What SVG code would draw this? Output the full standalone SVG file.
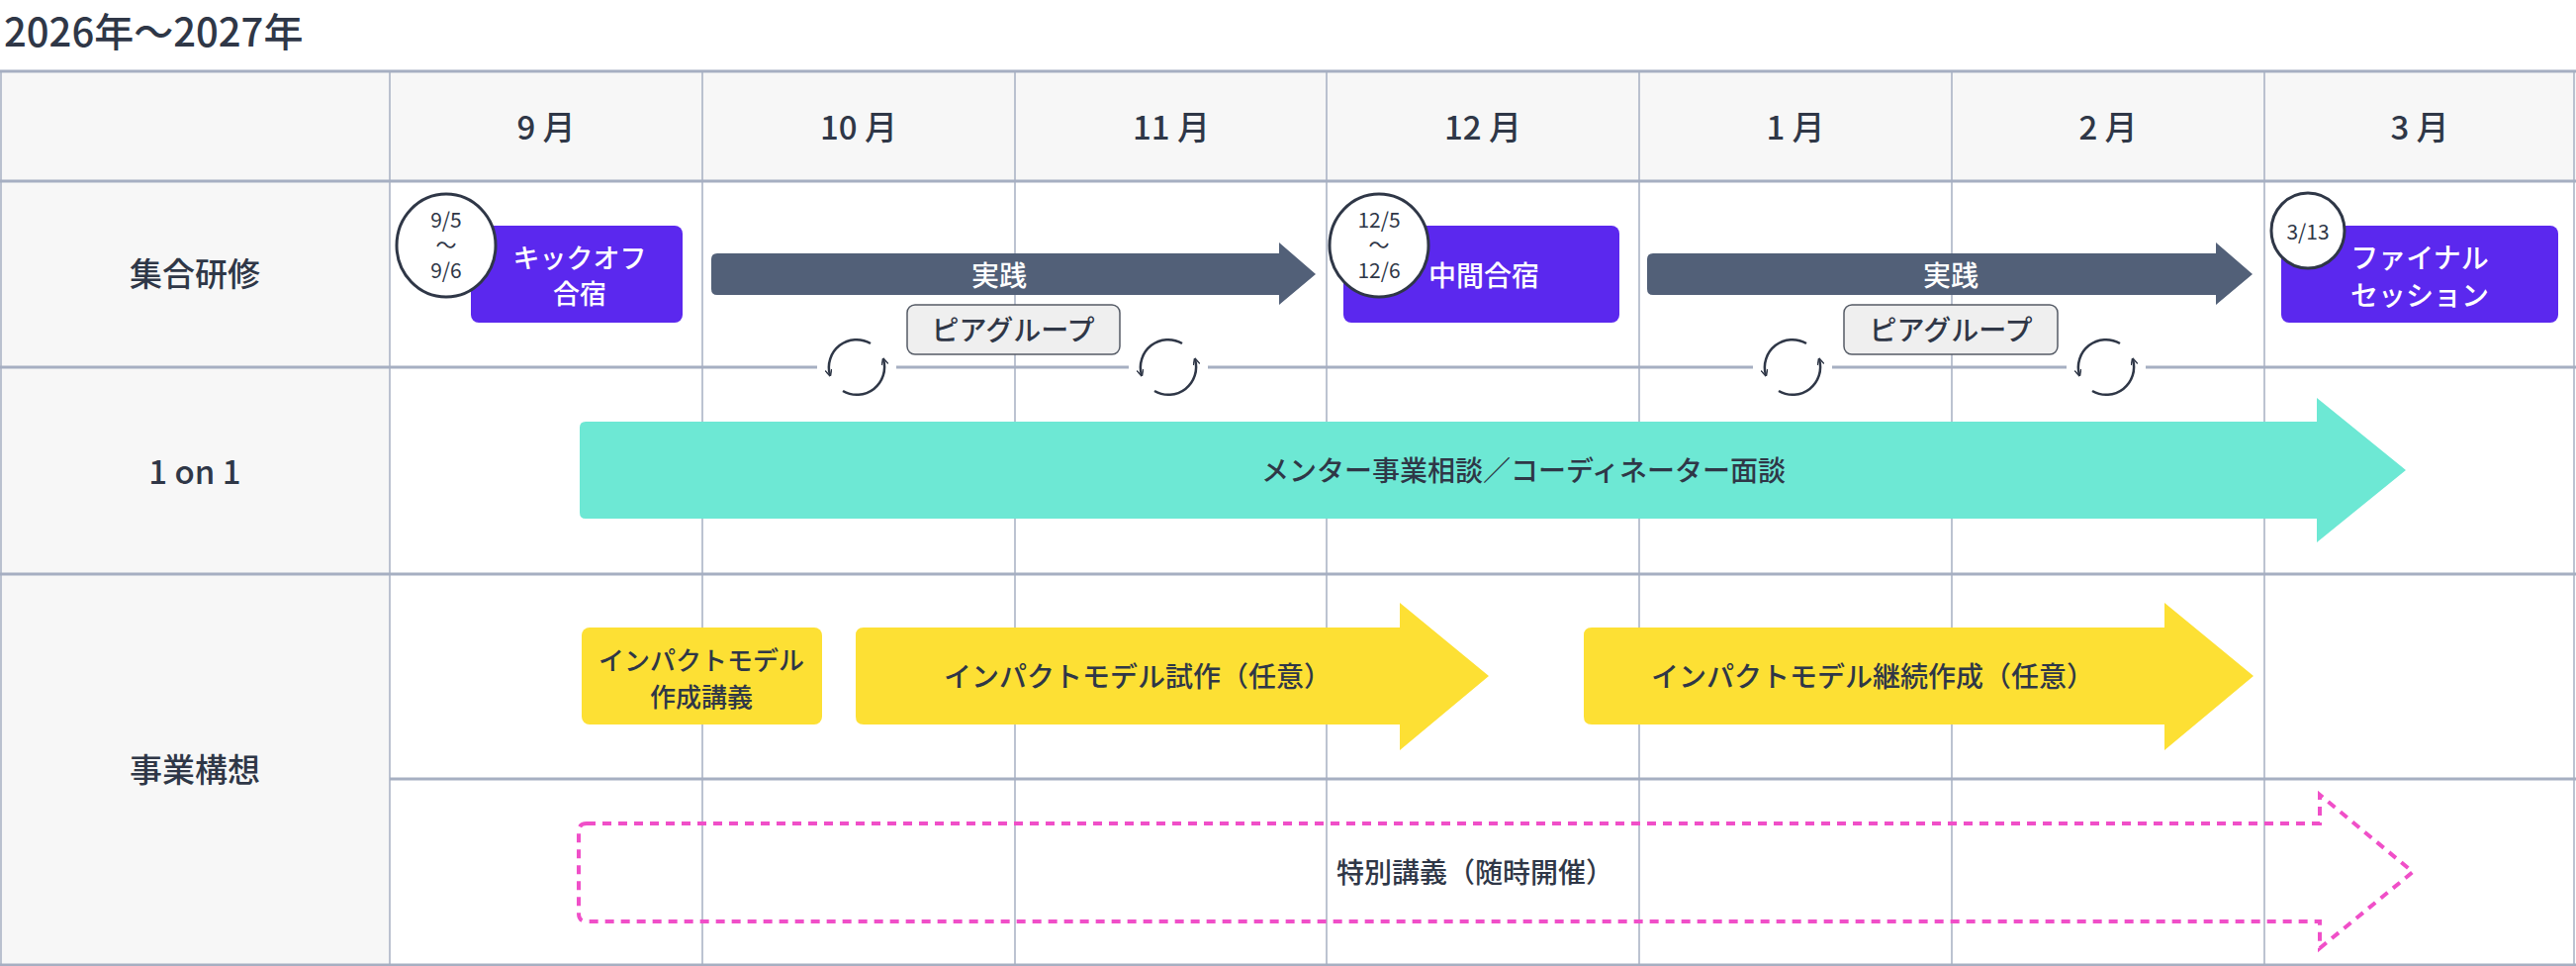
<svg xmlns="http://www.w3.org/2000/svg" width="2604" height="976" viewBox="0 0 2604 976">
<defs>
<style>
text{font-family:"Noto Sans CJK JP","Noto Sans",sans-serif;fill:#2f3747;text-anchor:middle;dominant-baseline:central}
.hd{font-size:33px;font-weight:500}
.lb{font-size:33px;font-weight:500}
.w{fill:#fff;font-size:28px;font-weight:500}
.d{font-size:28px;font-weight:500}
.d2{font-size:26px;font-weight:500}
.c{font-size:21px}
.bg{fill:#f7f7f7}
.v{stroke:#a6afc2;stroke-width:1.5}
.h{stroke:#a6afc2;stroke-width:3}
.pur{fill:#5b28ee}
.dt{fill:#fff;stroke:#2f3747;stroke-width:3}
.cy{fill:none;stroke:#2f3747;stroke-width:2.5}
</style>
<marker id="ah" viewBox="0 0 10 10" refX="8" refY="5" markerWidth="7" markerHeight="7" markerUnits="userSpaceOnUse" orient="auto"><path d="M0,0 L10,5 L0,10" fill="none" stroke="#2f3747" stroke-width="2"/></marker>
</defs>
<rect width="2604" height="976" fill="#fff"/>
<text x="4" y="30" style="text-anchor:start;font-size:40px;font-weight:500">2026年〜2027年</text>
<g id="grid">
<rect class="bg" x="0" y="71" width="2604" height="112"/>
<rect class="bg" x="0" y="183" width="394" height="793"/>
<g class="v">
<line x1="1" y1="71" x2="1" y2="976"/>
<line x1="394" y1="71" x2="394" y2="976"/>
<line x1="710" y1="71" x2="710" y2="976"/>
<line x1="1026" y1="71" x2="1026" y2="976"/>
<line x1="1341" y1="71" x2="1341" y2="976"/>
<line x1="1657" y1="71" x2="1657" y2="976"/>
<line x1="1973" y1="71" x2="1973" y2="976"/>
<line x1="2289" y1="71" x2="2289" y2="976"/>
<line x1="2602" y1="71" x2="2602" y2="976"/>
</g>
<g class="h">
<line x1="0" y1="72" x2="2604" y2="72"/>
<line x1="0" y1="183" x2="2604" y2="183"/>
<line x1="0" y1="371" x2="2604" y2="371"/>
<line x1="0" y1="580" x2="2604" y2="580"/>
<line x1="394" y1="787" x2="2604" y2="787"/>
<line x1="0" y1="975" x2="2604" y2="975"/>
</g>
</g>
<g id="headers">
<text class="hd" x="552" y="127">9 月</text>
<text class="hd" x="868" y="127">10 月</text>
<text class="hd" x="1184" y="127">11 月</text>
<text class="hd" x="1499" y="127">12 月</text>
<text class="hd" x="1815" y="127">1 月</text>
<text class="hd" x="2131" y="127">2 月</text>
<text class="hd" x="2446" y="127">3 月</text>
<text class="lb" x="197" y="275">集合研修</text>
<text class="lb" x="197" y="475">1 on 1</text>
<text class="lb" x="197" y="776">事業構想</text>
</g>
<g id="connectors">
<path d="M725,256 H1293 V245 L1330,277 L1293,308 V298 H725 Q719,298 719,292 V262 Q719,256 725,256 Z" fill="#526078"/>
<path d="M1671,256 H2240 V245 L2277,277 L2240,308 V298 H1671 Q1665,298 1665,292 V262 Q1665,256 1671,256 Z" fill="#526078"/>
<path d="M592,426 H2342 V402 L2432,475 L2342,548 V524 H592 Q586,524 586,518 V432 Q586,426 592,426 Z" fill="#6de8d4"/>
<path d="M873,634 H1415 V609 L1505,683 L1415,758 V732 H873 Q865,732 865,724 V642 Q865,634 873,634 Z" fill="#fde034"/>
<path d="M1609,634 H2188 V609 L2278,683 L2188,758 V732 H1609 Q1601,732 1601,724 V642 Q1601,634 1609,634 Z" fill="#fde034"/>
<path d="M593,832 H2345 V803 L2439,881 L2345,958 V931 H593 Q585,931 585,923 V840 Q585,832 593,832 Z" fill="none" stroke="#f04fc8" stroke-width="4" stroke-dasharray="9,7"/>
<g id="cycles">
<rect x="826" y="366" width="80" height="10" fill="#fff"/>
<rect x="1141" y="366" width="80" height="10" fill="#fff"/>
<rect x="1772" y="366" width="80" height="10" fill="#fff"/>
<rect x="2089" y="366" width="80" height="10" fill="#fff"/>
<g id="cy1" transform="translate(866,371)">
<path class="cy" d="M14,-24 A28,28 0 0 0 -27,8" marker-end="url(#ah)"/>
<path class="cy" d="M-14,24 A28,28 0 0 0 27,-8" marker-end="url(#ah)"/>
</g>
<use href="#cy1" x="315" y="0"/>
<use href="#cy1" x="946" y="0"/>
<use href="#cy1" x="1263" y="0"/>
</g>
</g>
<g id="kickoff">
<rect class="pur" x="476" y="228" width="214" height="98" rx="8"/>
<text class="w" x="586" y="259" style="font-size:27px">キックオフ</text>
<text class="w" x="586" y="295" style="font-size:27px">合宿</text>
</g>
<g id="d1"><ellipse class="dt" cx="451" cy="248" rx="50" ry="52"/>
<text class="c" x="451" y="221">9/5</text><text class="c" x="451" y="246">〜</text><text class="c" x="451" y="272">9/6</text></g>
<g id="jissen1"><text class="w" x="1010" y="277">実践</text></g>
<g id="peer1"><rect x="917" y="308" width="215" height="50" rx="8" fill="#efefef" stroke="#555b66" stroke-width="1.5"/><text class="d" x="1024" y="332">ピアグループ</text></g>
<g id="chukan">
<rect class="pur" x="1358" y="228" width="279" height="98" rx="8"/>
<text class="w" x="1500" y="277">中間合宿</text>
</g>
<g id="d2"><ellipse class="dt" cx="1394" cy="248" rx="50" ry="52"/>
<text class="c" x="1394" y="221">12/5</text><text class="c" x="1394" y="246">〜</text><text class="c" x="1394" y="272">12/6</text></g>
<g id="jissen2"><text class="w" x="1972" y="277">実践</text></g>
<g id="peer2"><rect x="1864" y="308" width="216" height="50" rx="8" fill="#efefef" stroke="#555b66" stroke-width="1.5"/><text class="d" x="1972" y="332">ピアグループ</text></g>
<g id="final">
<rect class="pur" x="2306" y="228" width="280" height="98" rx="8"/>
<text class="w" x="2446" y="259">ファイナル</text>
<text class="w" x="2446" y="297">セッション</text>
</g>
<g id="d3"><ellipse class="dt" cx="2333" cy="233" rx="37" ry="38"/><text class="c" x="2333" y="233">3/13</text></g>
<g id="mentor"><text class="d" x="1540" y="474">メンター事業相談／コーディネーター面談</text></g>
<g id="impact-lec">
<rect x="588" y="634" width="243" height="98" rx="8" fill="#fde034"/>
<text class="d2" x="709" y="665">インパクトモデル</text>
<text class="d2" x="709" y="702">作成講義</text>
</g>
<g id="impact1"><text class="d" x="1150" y="682">インパクトモデル試作（任意）</text></g>
<g id="impact2"><text class="d" x="1893" y="682">インパクトモデル継続作成（任意）</text></g>
<g id="special"><text class="d" x="1491" y="880">特別講義（随時開催）</text></g>
</svg>
